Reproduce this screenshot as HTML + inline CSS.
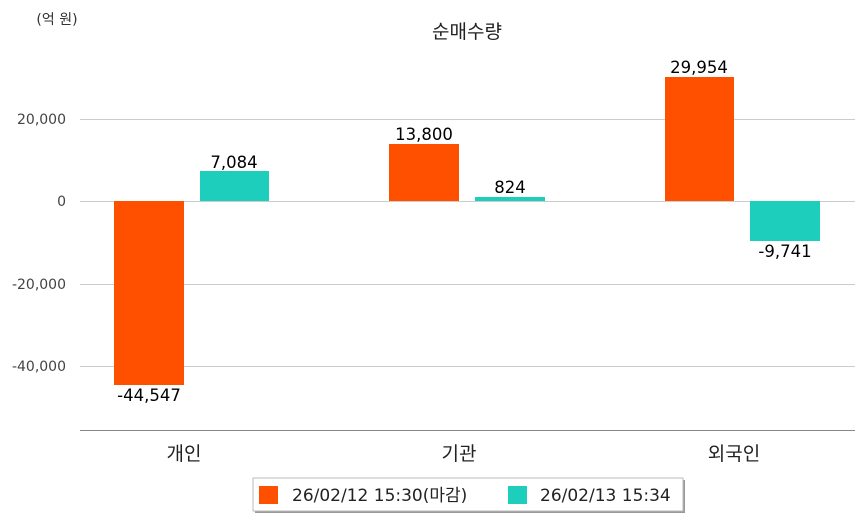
<!DOCTYPE html>
<html><head><meta charset="utf-8"><style>
body{margin:0;background:#fff;}
text{font-family:"DejaVu Sans","Noto Sans CJK KR",sans-serif;}
</style></head><body>
<svg width="863" height="520" xmlns="http://www.w3.org/2000/svg">
<rect width="863" height="520" fill="#fff"/>
<text x="57" y="24" font-size="14" text-anchor="middle" fill="#333">(억 원)</text>
<text x="467" y="38" font-size="19" text-anchor="middle" fill="#222">순매수량</text>
<g stroke="#ccc" stroke-width="1">
<line x1="80" y1="119.5" x2="855" y2="119.5"/>
<line x1="80" y1="201.5" x2="855" y2="201.5"/>
<line x1="80" y1="284.5" x2="855" y2="284.5"/>
<line x1="80" y1="366.5" x2="855" y2="366.5"/>
</g>
<line x1="80" y1="430.5" x2="855" y2="430.5" stroke="#888"/>
<g font-size="14" fill="#444" text-anchor="end">
<text x="66" y="124">20,000</text>
<text x="66" y="206">0</text>
<text x="66" y="289">-20,000</text>
<text x="66" y="371">-40,000</text>
</g>
<g fill="#ff5000">
<rect x="114" y="201" width="70" height="184"/>
<rect x="389" y="144" width="70" height="57"/>
<rect x="665" y="77" width="69" height="124"/>
</g>
<g fill="#1dcebd">
<rect x="200" y="171" width="69" height="30"/>
<rect x="475" y="197" width="70" height="4"/>
<rect x="750" y="201" width="70" height="40"/>
</g>
<g font-size="16.5" fill="#000" text-anchor="middle">
<text x="149" y="401">-44,547</text>
<text x="234" y="168">7,084</text>
<text x="424" y="140">13,800</text>
<text x="510" y="193">824</text>
<text x="699" y="73">29,954</text>
<text x="785" y="257">-9,741</text>
</g>
<g font-size="19" fill="#222" text-anchor="middle">
<text x="184" y="460">개인</text>
<text x="459" y="460">기관</text>
<text x="734" y="460">외국인</text>
</g>
<rect x="255" y="480" width="430" height="33" fill="#999"/>
<rect x="253" y="478" width="430" height="33" fill="#fff" stroke="#bbb"/>
<rect x="259" y="486" width="19" height="18" fill="#ff5000"/>
<text x="292" y="501" font-size="17" fill="#222">26/02/12 15:30(마감)</text>
<rect x="508" y="486" width="19" height="18" fill="#1dcebd"/>
<text x="540" y="501" font-size="17" fill="#222">26/02/13 15:34</text>
</svg>
</body></html>
